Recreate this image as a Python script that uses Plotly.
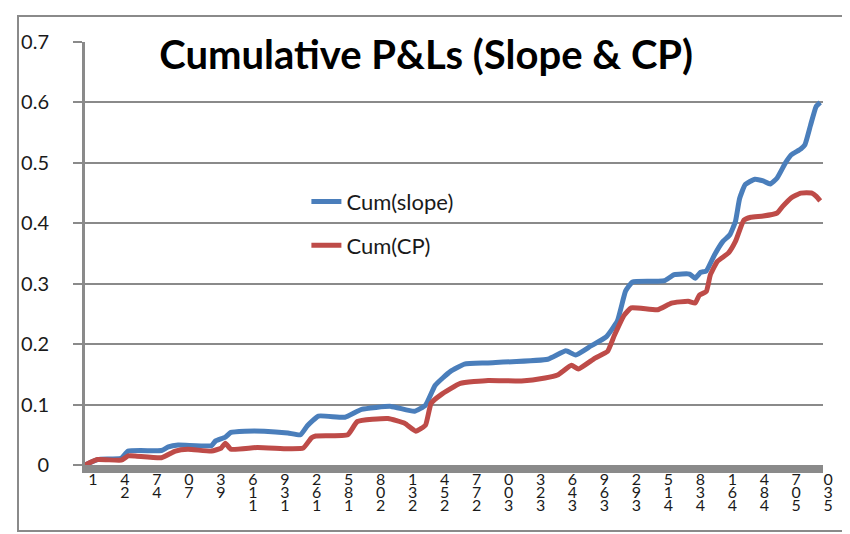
import plotly.graph_objects as go

# ---- data ----
slope_x = [1, 10, 27, 32, 56, 61, 68, 92, 95, 102, 106, 116, 130, 147, 156, 161, 169, 188, 200,
           221, 238, 246, 253, 264, 274, 291, 334, 347, 354, 365, 376, 384, 390, 395, 413, 418,
           425, 436, 440, 444, 448, 454, 460, 465, 469, 472, 476, 483, 489, 494, 499, 505, 509,
           516, 519, 523, 527, 530]
slope_y = [0.000, 0.009, 0.011, 0.023, 0.024, 0.030, 0.033, 0.032, 0.040, 0.046, 0.054, 0.056,
           0.056, 0.053, 0.050, 0.065, 0.081, 0.079, 0.092, 0.097, 0.089, 0.099, 0.132, 0.155,
           0.167, 0.169, 0.175, 0.189, 0.182, 0.197, 0.212, 0.238, 0.288, 0.303, 0.304, 0.305,
           0.315, 0.316, 0.309, 0.319, 0.321, 0.348, 0.370, 0.381, 0.403, 0.441, 0.464, 0.473,
           0.470, 0.465, 0.475, 0.500, 0.513, 0.523, 0.530, 0.562, 0.593, 0.600]

cp_x = [1, 10, 27, 32, 37, 56, 66, 75, 92, 99, 102, 106, 125, 147, 158, 164, 167, 190, 197, 219,
        231, 239, 246, 250, 257, 271, 291, 315, 332, 341, 351, 356, 368, 377, 382, 389, 394, 413,
        423, 435, 440, 443, 448, 451, 456, 464, 469, 475, 480, 489, 499, 503, 509, 516, 524, 527,
        530]
cp_y = [0.000, 0.009, 0.008, 0.015, 0.015, 0.012, 0.023, 0.026, 0.023, 0.028, 0.036, 0.026,
        0.029, 0.027, 0.028, 0.045, 0.048, 0.050, 0.072, 0.077, 0.069, 0.056, 0.066, 0.102,
        0.116, 0.135, 0.140, 0.139, 0.144, 0.149, 0.165, 0.159, 0.177, 0.188, 0.215, 0.248,
        0.260, 0.257, 0.268, 0.271, 0.268, 0.281, 0.287, 0.315, 0.337, 0.351, 0.370, 0.405,
        0.410, 0.412, 0.417, 0.428, 0.442, 0.450, 0.450, 0.445, 0.437]

tick_labels = [1, 24, 47, 70, 93, 116, 139, 162, 185, 208, 231, 254, 277, 300, 323, 346, 369,
               392, 415, 438, 461, 484, 507, 530]
y_ticks = [0, 0.1, 0.2, 0.3, 0.4, 0.5, 0.6, 0.7]
y_tick_text = ["0", "0.1", "0.2", "0.3", "0.4", "0.5", "0.6", "0.7"]

title_text = "Cumulative P&Ls (Slope & CP)"
name_slope = "Cum(slope)"
name_cp = "Cum(CP)"


# Excel-style stacked digits (last digit on top); a small base font keeps the
# line pitch tight while each digit is drawn larger.
def stacked(v):
    digits = str(v)[::-1]
    return "<br>".join('<span style="font-size:16px">%s</span>' % d for d in digits)


BLUE = "#4A7EBB"
RED = "#BE4B48"
GRID = "#8A8A8A"
FONT = "Lato"

fig = go.Figure()
fig.add_trace(go.Scatter(x=slope_x, y=slope_y, mode="lines", name=name_slope,
                         line=dict(color=BLUE, width=5, shape="spline", smoothing=0.4),
                         legendgroup="a"))
fig.add_trace(go.Scatter(x=cp_x, y=cp_y, mode="lines", name=name_cp,
                         line=dict(color=RED, width=5, shape="spline", smoothing=0.4),
                         legendgroup="b"))

fig.update_layout(
    width=850, height=534,
    margin=dict(l=77, r=35, t=34, b=77),
    paper_bgcolor="white", plot_bgcolor="white",
    title=dict(text="<b>" + title_text + "</b>", x=0.492, xanchor="center",
               y=(534 - 47) / 534, yanchor="middle",
               font=dict(family=FONT, size=40, color="#000000")),
    showlegend=True,
    legend=dict(x=0.30, xanchor="left", y=0.672, yanchor="top",
                bgcolor="rgba(0,0,0,0)", borderwidth=0, tracegroupgap=12,
                font=dict(family=FONT, size=22, color="#1a1a1a")),
    xaxis=dict(range=[1, 532], tickvals=tick_labels, ticktext=[stacked(v) for v in tick_labels],
               ticks="", showgrid=False, zeroline=False,
               showline=True, linewidth=8, linecolor=GRID,
               tickfont=dict(family=FONT, size=10, color="#1a1a1a"),
               ticklabelshift=8, ticklabelstandoff=0),
    yaxis=dict(range=[0, 0.7], tickvals=y_ticks, ticktext=y_tick_text,
               showgrid=True, gridcolor=GRID, gridwidth=2, zeroline=False,
               showline=True, linecolor=GRID, linewidth=3,
               ticks="outside", ticklen=9, tickwidth=2, tickcolor=GRID,
               ticklabelstandoff=20,
               tickfont=dict(family=FONT, size=20, color="#1a1a1a")),
    shapes=[dict(type="rect", xref="paper", yref="paper",
                 x0=(10 - 77) / 738, x1=(841 - 77) / 738,
                 y0=(457 - 523) / 423, y1=(457 - 8) / 423,
                 line=dict(color=GRID, width=2), fillcolor="rgba(0,0,0,0)", layer="below")],
)

fig.write_html("out.html")
